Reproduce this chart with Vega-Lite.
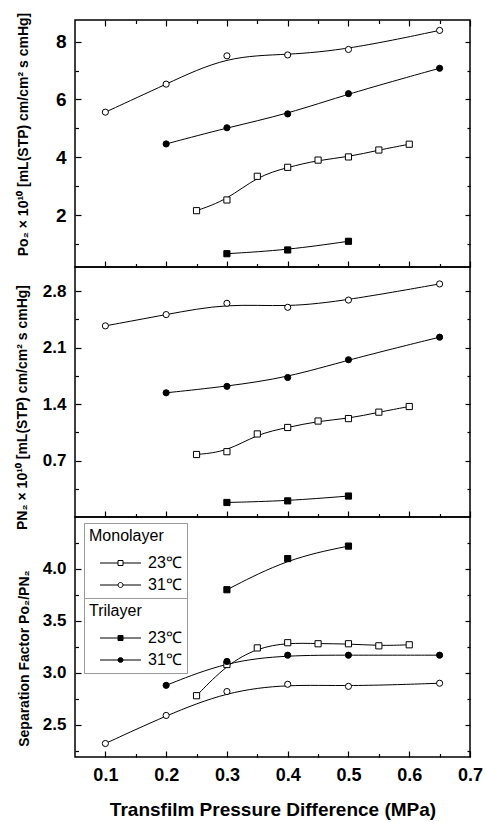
{
  "$schema": "https://vega.github.io/schema/vega-lite/v6.json",
  "padding": {"left": 14, "top": 11, "right": 4, "bottom": 2},
  "bounds": "flush",
  "spacing": 0,
  "data": {"values": [
    {"panel": 1, "series": "Mono31", "layer": "Monolayer", "temp": "31℃", "x": 0.1, "y": 5.56},
    {"panel": 1, "series": "Mono31", "layer": "Monolayer", "temp": "31℃", "x": 0.2, "y": 6.53},
    {"panel": 1, "series": "Mono31", "layer": "Monolayer", "temp": "31℃", "x": 0.3, "y": 7.51},
    {"panel": 1, "series": "Mono31", "layer": "Monolayer", "temp": "31℃", "x": 0.4, "y": 7.54},
    {"panel": 1, "series": "Mono31", "layer": "Monolayer", "temp": "31℃", "x": 0.5, "y": 7.73},
    {"panel": 1, "series": "Mono31", "layer": "Monolayer", "temp": "31℃", "x": 0.65, "y": 8.39},
    {"panel": 1, "series": "Tri31", "layer": "Trilayer", "temp": "31℃", "x": 0.2, "y": 4.46},
    {"panel": 1, "series": "Tri31", "layer": "Trilayer", "temp": "31℃", "x": 0.3, "y": 5.02},
    {"panel": 1, "series": "Tri31", "layer": "Trilayer", "temp": "31℃", "x": 0.4, "y": 5.5},
    {"panel": 1, "series": "Tri31", "layer": "Trilayer", "temp": "31℃", "x": 0.5, "y": 6.2},
    {"panel": 1, "series": "Tri31", "layer": "Trilayer", "temp": "31℃", "x": 0.65, "y": 7.08},
    {"panel": 1, "series": "Mono23", "layer": "Monolayer", "temp": "23℃", "x": 0.25, "y": 2.15},
    {"panel": 1, "series": "Mono23", "layer": "Monolayer", "temp": "23℃", "x": 0.3, "y": 2.52},
    {"panel": 1, "series": "Mono23", "layer": "Monolayer", "temp": "23℃", "x": 0.35, "y": 3.34},
    {"panel": 1, "series": "Mono23", "layer": "Monolayer", "temp": "23℃", "x": 0.4, "y": 3.65},
    {"panel": 1, "series": "Mono23", "layer": "Monolayer", "temp": "23℃", "x": 0.45, "y": 3.9},
    {"panel": 1, "series": "Mono23", "layer": "Monolayer", "temp": "23℃", "x": 0.5, "y": 4.01},
    {"panel": 1, "series": "Mono23", "layer": "Monolayer", "temp": "23℃", "x": 0.55, "y": 4.25},
    {"panel": 1, "series": "Mono23", "layer": "Monolayer", "temp": "23℃", "x": 0.6, "y": 4.45},
    {"panel": 1, "series": "Tri23", "layer": "Trilayer", "temp": "23℃", "x": 0.3, "y": 0.66},
    {"panel": 1, "series": "Tri23", "layer": "Trilayer", "temp": "23℃", "x": 0.4, "y": 0.79},
    {"panel": 1, "series": "Tri23", "layer": "Trilayer", "temp": "23℃", "x": 0.5, "y": 1.09},
    {"panel": 2, "series": "Mono31", "layer": "Monolayer", "temp": "31℃", "x": 0.1, "y": 2.37},
    {"panel": 2, "series": "Mono31", "layer": "Monolayer", "temp": "31℃", "x": 0.2, "y": 2.51},
    {"panel": 2, "series": "Mono31", "layer": "Monolayer", "temp": "31℃", "x": 0.3, "y": 2.65},
    {"panel": 2, "series": "Mono31", "layer": "Monolayer", "temp": "31℃", "x": 0.4, "y": 2.6},
    {"panel": 2, "series": "Mono31", "layer": "Monolayer", "temp": "31℃", "x": 0.5, "y": 2.69},
    {"panel": 2, "series": "Mono31", "layer": "Monolayer", "temp": "31℃", "x": 0.65, "y": 2.89},
    {"panel": 2, "series": "Tri31", "layer": "Trilayer", "temp": "31℃", "x": 0.2, "y": 1.54},
    {"panel": 2, "series": "Tri31", "layer": "Trilayer", "temp": "31℃", "x": 0.3, "y": 1.62},
    {"panel": 2, "series": "Tri31", "layer": "Trilayer", "temp": "31℃", "x": 0.4, "y": 1.73},
    {"panel": 2, "series": "Tri31", "layer": "Trilayer", "temp": "31℃", "x": 0.5, "y": 1.95},
    {"panel": 2, "series": "Tri31", "layer": "Trilayer", "temp": "31℃", "x": 0.65, "y": 2.23},
    {"panel": 2, "series": "Mono23", "layer": "Monolayer", "temp": "23℃", "x": 0.25, "y": 0.775},
    {"panel": 2, "series": "Mono23", "layer": "Monolayer", "temp": "23℃", "x": 0.3, "y": 0.81},
    {"panel": 2, "series": "Mono23", "layer": "Monolayer", "temp": "23℃", "x": 0.35, "y": 1.03},
    {"panel": 2, "series": "Mono23", "layer": "Monolayer", "temp": "23℃", "x": 0.4, "y": 1.11},
    {"panel": 2, "series": "Mono23", "layer": "Monolayer", "temp": "23℃", "x": 0.45, "y": 1.19},
    {"panel": 2, "series": "Mono23", "layer": "Monolayer", "temp": "23℃", "x": 0.5, "y": 1.22},
    {"panel": 2, "series": "Mono23", "layer": "Monolayer", "temp": "23℃", "x": 0.55, "y": 1.3},
    {"panel": 2, "series": "Mono23", "layer": "Monolayer", "temp": "23℃", "x": 0.6, "y": 1.37},
    {"panel": 2, "series": "Tri23", "layer": "Trilayer", "temp": "23℃", "x": 0.3, "y": 0.18},
    {"panel": 2, "series": "Tri23", "layer": "Trilayer", "temp": "23℃", "x": 0.4, "y": 0.2},
    {"panel": 2, "series": "Tri23", "layer": "Trilayer", "temp": "23℃", "x": 0.5, "y": 0.26},
    {"panel": 3, "series": "Tri23", "layer": "Trilayer", "temp": "23℃", "x": 0.3, "y": 3.8},
    {"panel": 3, "series": "Tri23", "layer": "Trilayer", "temp": "23℃", "x": 0.4, "y": 4.1},
    {"panel": 3, "series": "Tri23", "layer": "Trilayer", "temp": "23℃", "x": 0.5, "y": 4.22},
    {"panel": 3, "series": "Mono23", "layer": "Monolayer", "temp": "23℃", "x": 0.25, "y": 2.78},
    {"panel": 3, "series": "Mono23", "layer": "Monolayer", "temp": "23℃", "x": 0.3, "y": 3.08},
    {"panel": 3, "series": "Mono23", "layer": "Monolayer", "temp": "23℃", "x": 0.35, "y": 3.24},
    {"panel": 3, "series": "Mono23", "layer": "Monolayer", "temp": "23℃", "x": 0.4, "y": 3.29},
    {"panel": 3, "series": "Mono23", "layer": "Monolayer", "temp": "23℃", "x": 0.45, "y": 3.28},
    {"panel": 3, "series": "Mono23", "layer": "Monolayer", "temp": "23℃", "x": 0.5, "y": 3.28},
    {"panel": 3, "series": "Mono23", "layer": "Monolayer", "temp": "23℃", "x": 0.55, "y": 3.26},
    {"panel": 3, "series": "Mono23", "layer": "Monolayer", "temp": "23℃", "x": 0.6, "y": 3.27},
    {"panel": 3, "series": "Tri31", "layer": "Trilayer", "temp": "31℃", "x": 0.2, "y": 2.88},
    {"panel": 3, "series": "Tri31", "layer": "Trilayer", "temp": "31℃", "x": 0.3, "y": 3.11},
    {"panel": 3, "series": "Tri31", "layer": "Trilayer", "temp": "31℃", "x": 0.4, "y": 3.17},
    {"panel": 3, "series": "Tri31", "layer": "Trilayer", "temp": "31℃", "x": 0.5, "y": 3.17},
    {"panel": 3, "series": "Tri31", "layer": "Trilayer", "temp": "31℃", "x": 0.65, "y": 3.17},
    {"panel": 3, "series": "Mono31", "layer": "Monolayer", "temp": "31℃", "x": 0.1, "y": 2.32},
    {"panel": 3, "series": "Mono31", "layer": "Monolayer", "temp": "31℃", "x": 0.2, "y": 2.59},
    {"panel": 3, "series": "Mono31", "layer": "Monolayer", "temp": "31℃", "x": 0.3, "y": 2.82},
    {"panel": 3, "series": "Mono31", "layer": "Monolayer", "temp": "31℃", "x": 0.4, "y": 2.89},
    {"panel": 3, "series": "Mono31", "layer": "Monolayer", "temp": "31℃", "x": 0.5, "y": 2.87},
    {"panel": 3, "series": "Mono31", "layer": "Monolayer", "temp": "31℃", "x": 0.65, "y": 2.9}
  ]},
  "vconcat": [
    {
      "width": 395, "height": 247,
      "transform": [{"filter": "datum.panel == 1"}],
      "layer": [
        {"mark": {"type": "line", "interpolate": "basis", "color": "black", "strokeWidth": 1},
         "encoding": {
           "x": {"field": "x", "type": "quantitative", "scale": {"domain": [0.05, 0.7], "nice": false, "zero": false},
                 "axis": {"orient": "bottom", "values": [0.1,0.15,0.2,0.25,0.3,0.35,0.4,0.45,0.5,0.55,0.6,0.65,0.7], "labels": false, "title": null,
                          "tickSize": {"condition": {"test": "abs(datum.value*10 - round(datum.value*10)) < 0.001", "value": -6}, "value": -3.5}}},
           "y": {"field": "y", "type": "quantitative", "scale": {"domain": [0.2, 8.75], "nice": false, "zero": false},
                 "axis": {"orient": "left", "values": [1,2,3,4,5,6,7,8], "labelExpr": "datum.value % 2 == 0 ? datum.label : ''",
                          "labelFontSize": 19, "labelPadding": 15,
                          "tickSize": {"condition": {"test": "datum.value % 2 == 0", "value": -6}, "value": -3.5},
                          "title": "Po₂ × 10¹⁰ [mL(STP) cm/cm² s cmHg]", "titlePadding": 25, "titleY": 114}},
           "detail": {"field": "series"}}},
        {"mark": {"type": "point", "filled": true, "stroke": "black", "strokeWidth": 1, "size": 38, "opacity": 1},
         "encoding": {
           "x": {"field": "x", "type": "quantitative",
                 "axis": {"orient": "top", "values": [0.1,0.15,0.2,0.25,0.3,0.35,0.4,0.45,0.5,0.55,0.6,0.65,0.7], "labels": false, "title": null,
                          "tickSize": {"condition": {"test": "abs(datum.value*10 - round(datum.value*10)) < 0.001", "value": -6}, "value": -3.5}}},
           "y": {"field": "y", "type": "quantitative",
                 "axis": {"orient": "right", "values": [1,2,3,4,5,6,7,8], "labels": false, "title": null,
                          "tickSize": {"condition": {"test": "datum.value % 2 == 0", "value": -5}, "value": -3}}},
           "shape": {"field": "temp", "type": "nominal", "scale": {"domain": ["23℃", "31℃"], "range": ["square", "circle"]}, "legend": null},
           "fill": {"field": "layer", "type": "nominal", "scale": {"domain": ["Monolayer", "Trilayer"], "range": ["white", "black"]}, "legend": null}}}
      ],
      "resolve": {"axis": {"x": "independent", "y": "independent"}}
    },
    {
      "width": 395, "height": 250,
      "transform": [{"filter": "datum.panel == 2"}],
      "layer": [
        {"mark": {"type": "line", "interpolate": "basis", "color": "black", "strokeWidth": 1},
         "encoding": {
           "x": {"field": "x", "type": "quantitative", "scale": {"domain": [0.05, 0.7], "nice": false, "zero": false},
                 "axis": {"orient": "bottom", "values": [0.1,0.15,0.2,0.25,0.3,0.35,0.4,0.45,0.5,0.55,0.6,0.65,0.7], "labels": false, "title": null,
                          "tickSize": {"condition": {"test": "abs(datum.value*10 - round(datum.value*10)) < 0.001", "value": -6}, "value": -3.5}}},
           "y": {"field": "y", "type": "quantitative", "scale": {"domain": [0, 3.1], "nice": false, "zero": false},
                 "axis": {"orient": "left", "values": [0.35,0.7,1.05,1.4,1.75,2.1,2.45,2.8],
                          "labelExpr": "abs(datum.value/0.7 - round(datum.value/0.7)) < 0.001 ? format(datum.value, '.1f') : ''",
                          "labelPadding": 15,
                          "tickSize": {"condition": {"test": "abs(datum.value/0.7 - round(datum.value/0.7)) < 0.001", "value": -6}, "value": -3.5},
                          "title": "PN₂ × 10¹⁰ [mL(STP) cm/cm² s cmHg]", "titlePadding": 13, "titleY": 140}},
           "detail": {"field": "series"}}},
        {"mark": {"type": "point", "filled": true, "stroke": "black", "strokeWidth": 1, "size": 38, "opacity": 1},
         "encoding": {
           "x": {"field": "x", "type": "quantitative", "axis": null},
           "y": {"field": "y", "type": "quantitative",
                 "axis": {"orient": "right", "values": [0.35,0.7,1.05,1.4,1.75,2.1,2.45,2.8], "labels": false, "title": null,
                          "tickSize": {"condition": {"test": "abs(datum.value/0.7 - round(datum.value/0.7)) < 0.001", "value": -5}, "value": -3}}},
           "shape": {"field": "temp", "type": "nominal", "scale": {"domain": ["23℃", "31℃"], "range": ["square", "circle"]}, "legend": null},
           "fill": {"field": "layer", "type": "nominal", "scale": {"domain": ["Monolayer", "Trilayer"], "range": ["white", "black"]}, "legend": null}}}
      ],
      "resolve": {"axis": {"x": "independent", "y": "independent"}}
    },
    {
      "width": 395, "height": 240,
      "transform": [{"filter": "datum.panel == 3"}],
      "layer": [
        {"mark": {"type": "line", "interpolate": "basis", "color": "black", "strokeWidth": 1},
         "encoding": {
           "x": {"field": "x", "type": "quantitative", "scale": {"domain": [0.05, 0.7], "nice": false, "zero": false},
                 "axis": {"orient": "bottom", "values": [0.1,0.15,0.2,0.25,0.3,0.35,0.4,0.45,0.5,0.55,0.6,0.65,0.7],
                          "labelExpr": "abs(datum.value*10 - round(datum.value*10)) < 0.001 ? format(datum.value, '.1f') : ''",
                          "labelFontSize": 18, "labelPadding": 15, "labelOverlap": false, "labelBound": false, "labelFlush": false,
                          "tickSize": {"condition": {"test": "abs(datum.value*10 - round(datum.value*10)) < 0.001", "value": -6}, "value": -3.5},
                          "title": "Transfilm Pressure Difference (MPa)", "titleFontSize": 19, "titlePadding": 14}},
           "y": {"field": "y", "type": "quantitative", "scale": {"domain": [2.19, 4.5], "nice": false, "zero": false},
                 "axis": {"orient": "left", "values": [2.25,2.5,2.75,3.0,3.25,3.5,3.75,4.0,4.25],
                          "labelExpr": "abs(datum.value*2 - round(datum.value*2)) < 0.001 ? format(datum.value, '.1f') : ''",
                          "labelPadding": 15,
                          "tickSize": {"condition": {"test": "abs(datum.value*2 - round(datum.value*2)) < 0.001", "value": -6}, "value": -3.5},
                          "title": "Separation Factor Po₂/PN₂", "titlePadding": 11, "titleY": 141}},
           "detail": {"field": "series"}}},
        {"mark": {"type": "point", "filled": true, "stroke": "black", "strokeWidth": 1, "size": 38, "opacity": 1},
         "encoding": {
           "x": {"field": "x", "type": "quantitative", "axis": null},
           "y": {"field": "y", "type": "quantitative",
                 "axis": {"orient": "right", "values": [2.25,2.5,2.75,3.0,3.25,3.5,3.75,4.0,4.25], "labels": false, "title": null,
                          "tickSize": {"condition": {"test": "abs(datum.value*2 - round(datum.value*2)) < 0.001", "value": -5}, "value": -3}}},
           "shape": {"field": "temp", "type": "nominal", "scale": {"domain": ["23℃", "31℃"], "range": ["square", "circle"]}, "legend": null},
           "fill": {"field": "layer", "type": "nominal", "scale": {"domain": ["Monolayer", "Trilayer"], "range": ["white", "black"]}, "legend": null}}},
        {"transform": [{"filter": "false"}],
         "mark": {"type": "point", "filled": false, "color": "black", "strokeWidth": 1, "opacity": 1},
         "encoding": {
           "x": {"field": "x", "type": "quantitative", "axis": null},
           "y": {"field": "y", "type": "quantitative", "axis": null},
           "shape": {"field": "temp", "type": "nominal",
                     "scale": {"domain": ["23℃", "31℃"], "range": ["M0.6,0H4.2M5.2,0H8.8M4.2,-0.5H5.2V0.5H4.2Z", "M0.6,0H4.2M5.2,0H8.8M5.2,0A0.5,0.5 0 1,1 4.2,0A0.5,0.5 0 1,1 5.2,0Z"]},
                     "legend": {"title": "Monolayer", "orient": "none", "legendX": 9, "legendY": 6}}}},
        {"transform": [{"filter": "false"}],
         "mark": {"type": "point", "filled": false, "color": "black", "strokeWidth": 1, "opacity": 1},
         "encoding": {
           "x": {"field": "x", "type": "quantitative", "axis": null},
           "y": {"field": "y", "type": "quantitative", "axis": null},
           "shape": {"field": "temp", "type": "nominal",
                     "scale": {"domain": ["23℃", "31℃"], "range": ["M0.6,0H4.2M5.2,0H8.8M4.2,-0.5H5.2V0.5H4.2ZM4.2,-0.3H5.2M4.2,-0.1H5.2M4.2,0.1H5.2M4.2,0.3H5.2", "M0.6,0H4.2M5.2,0H8.8M5.2,0A0.5,0.5 0 1,1 4.2,0A0.5,0.5 0 1,1 5.2,0ZM4.3,-0.3H5.1M4.21,-0.1H5.19M4.21,0.1H5.19M4.3,0.3H5.1"]},
                     "legend": {"title": "Trilayer", "orient": "none", "legendX": 9, "legendY": 81}}}}
      ],
      "resolve": {"axis": {"x": "independent", "y": "independent"}, "scale": {"shape": "independent", "fill": "independent"}}
    }
  ],
  "resolve": {"scale": {"x": "independent", "y": "independent", "shape": "independent", "fill": "independent"}},
  "config": {
    "font": "Liberation Sans",
    "view": {"stroke": "black", "strokeWidth": 1.5},
    "axis": {"domain": false, "grid": false, "zindex": 1, "tickColor": "black", "tickWidth": 1.2,
             "labelFont": "Liberation Sans", "labelFontWeight": "bold", "labelFontSize": 17, "labelColor": "black",
             "titleFont": "Liberation Sans", "titleFontWeight": "bold", "titleFontSize": 14, "titleColor": "black"},
    "legend": {"padding": 5, "strokeColor": "#999", "strokeWidth": 1,
               "titleFont": "Liberation Sans", "titleFontWeight": "normal", "titleFontSize": 16, "titleColor": "black", "titlePadding": 11,
               "labelFont": "Liberation Sans", "labelFontSize": 16, "labelColor": "black", "labelOffset": 43,
               "symbolSize": 100, "symbolStrokeWidth": 1, "symbolStrokeColor": "black", "rowPadding": 6}
  }
}
